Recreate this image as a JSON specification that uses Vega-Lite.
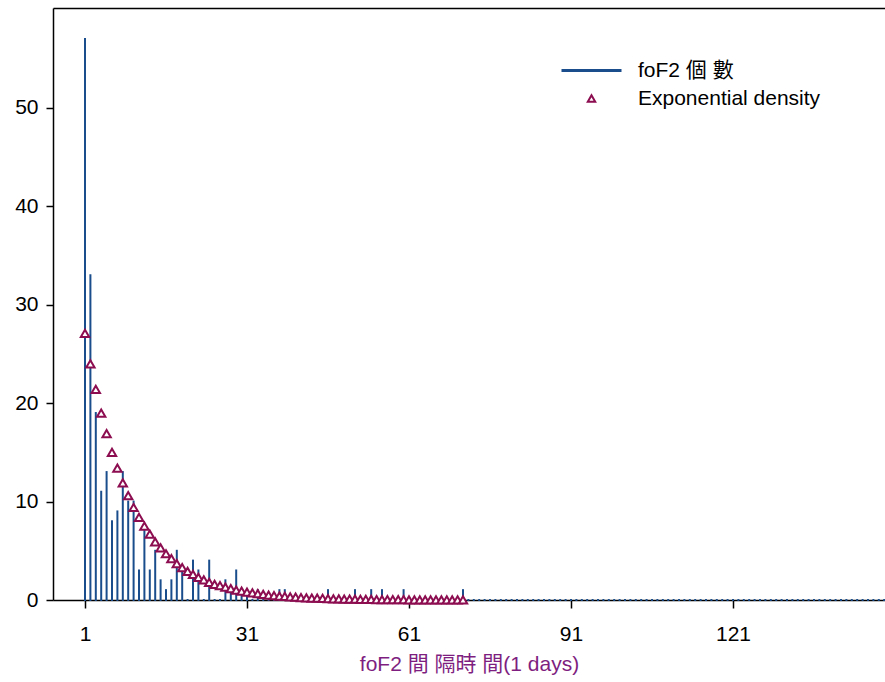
{
  "$schema": "https://vega.github.io/schema/vega-lite/v6.json",
  "width": 832,
  "height": 592,
  "autosize": {"type": "none"},
  "padding": {"left": 53, "top": 8, "right": 0, "bottom": 82},
  "background": "white",
  "config": {
    "view": {"stroke": null},
    "font": "Liberation Sans, Noto Sans CJK TC, sans-serif",
    "axis": {"grid": false, "labelFont": "Liberation Sans, Noto Sans CJK TC, sans-serif", "titleFont": "Liberation Sans, Noto Sans CJK TC, sans-serif"},
    "legend": {"labelFont": "Liberation Sans, Noto Sans CJK TC, sans-serif"}
  },
  "datasets": {
    "counts": [
      {"day":1,"count":57},{"day":2,"count":33},{"day":3,"count":19},{"day":4,"count":11},{"day":5,"count":13},
      {"day":6,"count":8},{"day":7,"count":9},{"day":8,"count":13},{"day":9,"count":10},{"day":10,"count":10},
      {"day":11,"count":3},{"day":12,"count":7},{"day":13,"count":3},{"day":14,"count":5},{"day":15,"count":2},
      {"day":16,"count":1},{"day":17,"count":2},{"day":18,"count":5},{"day":19,"count":3},{"day":20,"count":0},
      {"day":21,"count":4},{"day":22,"count":3},{"day":23,"count":0},{"day":24,"count":4},{"day":25,"count":0},
      {"day":26,"count":0},{"day":27,"count":2},{"day":28,"count":1},{"day":29,"count":3},{"day":30,"count":1},
      {"day":31,"count":1},{"day":32,"count":0},{"day":33,"count":1},{"day":34,"count":0},{"day":35,"count":0},
      {"day":36,"count":0},{"day":37,"count":1},{"day":38,"count":1},{"day":39,"count":0},{"day":40,"count":0},
      {"day":41,"count":0},{"day":42,"count":0},{"day":43,"count":0},{"day":44,"count":0},{"day":45,"count":0},
      {"day":46,"count":1},{"day":47,"count":0},{"day":48,"count":0},{"day":49,"count":0},{"day":50,"count":0},
      {"day":51,"count":1},{"day":52,"count":0},{"day":53,"count":0},{"day":54,"count":1},{"day":55,"count":0},
      {"day":56,"count":1},{"day":57,"count":0},{"day":58,"count":0},{"day":59,"count":0},{"day":60,"count":1},
      {"day":61,"count":0},{"day":62,"count":0},{"day":63,"count":0},{"day":64,"count":0},{"day":65,"count":0},
      {"day":66,"count":0},{"day":67,"count":0},{"day":68,"count":0},{"day":69,"count":0},{"day":70,"count":0},
      {"day":71,"count":1},{"day":72,"count":0},{"day":73,"count":0},{"day":74,"count":0},{"day":75,"count":0},
      {"day":76,"count":0},{"day":77,"count":0},{"day":78,"count":0},{"day":79,"count":0},{"day":80,"count":0},
      {"day":81,"count":0},{"day":82,"count":0},{"day":83,"count":0},{"day":84,"count":0},{"day":85,"count":0},
      {"day":86,"count":0},{"day":87,"count":0},{"day":88,"count":0},{"day":89,"count":0},{"day":90,"count":0},
      {"day":91,"count":0},{"day":92,"count":0},{"day":93,"count":0},{"day":94,"count":0},{"day":95,"count":0},
      {"day":96,"count":0},{"day":97,"count":0},{"day":98,"count":0},{"day":99,"count":0},{"day":100,"count":0},
      {"day":101,"count":0},{"day":102,"count":0},{"day":103,"count":0},{"day":104,"count":0},{"day":105,"count":0},
      {"day":106,"count":0},{"day":107,"count":0},{"day":108,"count":0},{"day":109,"count":0},{"day":110,"count":0},
      {"day":111,"count":0},{"day":112,"count":0},{"day":113,"count":0},{"day":114,"count":0},{"day":115,"count":0},
      {"day":116,"count":0},{"day":117,"count":0},{"day":118,"count":0},{"day":119,"count":0},{"day":120,"count":0},
      {"day":121,"count":0},{"day":122,"count":0},{"day":123,"count":0},{"day":124,"count":0},{"day":125,"count":0},
      {"day":126,"count":0},{"day":127,"count":0},{"day":128,"count":0},{"day":129,"count":0},{"day":130,"count":0},
      {"day":131,"count":0},{"day":132,"count":0},{"day":133,"count":0},{"day":134,"count":0},{"day":135,"count":0},
      {"day":136,"count":0},{"day":137,"count":0},{"day":138,"count":0},{"day":139,"count":0},{"day":140,"count":0},
      {"day":141,"count":0},{"day":142,"count":0},{"day":143,"count":0},{"day":144,"count":0},{"day":145,"count":0},
      {"day":146,"count":0},{"day":147,"count":0},{"day":148,"count":0},{"day":149,"count":0}
    ],
    "density": [
      {"day":1,"density":27.1},{"day":2,"density":24.0},{"day":3,"density":21.4},{"day":4,"density":19.0},{"day":5,"density":16.9},
      {"day":6,"density":15.0},{"day":7,"density":13.4},{"day":8,"density":11.9},{"day":9,"density":10.6},{"day":10,"density":9.4},
      {"day":11,"density":8.4},{"day":12,"density":7.5},{"day":13,"density":6.7},{"day":14,"density":5.9},{"day":15,"density":5.3},
      {"day":16,"density":4.7},{"day":17,"density":4.2},{"day":18,"density":3.7},{"day":19,"density":3.3},{"day":20,"density":2.9},
      {"day":21,"density":2.6},{"day":22,"density":2.3},{"day":23,"density":2.05},{"day":24,"density":1.8},{"day":25,"density":1.6},
      {"day":26,"density":1.45},{"day":27,"density":1.3},{"day":28,"density":1.15},{"day":29,"density":1.0},{"day":30,"density":0.9},
      {"day":31,"density":0.8},{"day":32,"density":0.72},{"day":33,"density":0.64},{"day":34,"density":0.57},{"day":35,"density":0.5},
      {"day":36,"density":0.45},{"day":37,"density":0.4},{"day":38,"density":0.36},{"day":39,"density":0.32},{"day":40,"density":0.28},
      {"day":41,"density":0.25},{"day":42,"density":0.22},{"day":43,"density":0.2},{"day":44,"density":0.18},{"day":45,"density":0.16},
      {"day":46,"density":0.14},{"day":47,"density":0.12},{"day":48,"density":0.11},{"day":49,"density":0.1},{"day":50,"density":0.09},
      {"day":51,"density":0.08},{"day":52,"density":0.07},{"day":53,"density":0.06},{"day":54,"density":0.055},{"day":55,"density":0.05},
      {"day":56,"density":0.045},{"day":57,"density":0.04},{"day":58,"density":0.035},{"day":59,"density":0.03},{"day":60,"density":0.028},
      {"day":61,"density":0.025},{"day":62,"density":0.022},{"day":63,"density":0.02},{"day":64,"density":0.018},{"day":65,"density":0.016},
      {"day":66,"density":0.014},{"day":67,"density":0.012},{"day":68,"density":0.011},{"day":69,"density":0.01},{"day":70,"density":0.009},
      {"day":71,"density":0.008}
    ]
  },
  "layer": [
    {
      "data": {"name": "counts"},
      "mark": {"type": "rule", "strokeWidth": 2, "strokeCap": "square"},
      "encoding": {
        "x": {
          "field": "day", "type": "quantitative",
          "scale": {"domain": [-4.926, 149.15], "nice": false, "zero": false},
          "axis": {
            "orient": "bottom", "values": [1, 31, 61, 91, 121],
            "title": "foF2 間 隔時 間(1 days)", "titleColor": "#7e1e80", "titleFontSize": 21, "titleFontWeight": "normal",
            "titlePadding": 9,
            "labelFontSize": 21, "labelColor": "black", "labelPadding": 15, "labelFlush": false,
            "tickColor": "black", "tickSize": 8, "tickWidth": 1.5,
            "domainColor": "black", "domainWidth": 1.5
          }
        },
        "y": {
          "field": "count", "type": "quantitative",
          "scale": {"domain": [0, 60.16], "nice": false, "zero": true},
          "axis": {
            "values": [0, 10, 20, 30, 40, 50], "title": null,
            "labelFontSize": 21, "labelColor": "black", "labelPadding": 8,
            "tickColor": "black", "tickSize": 7, "tickWidth": 1.5,
            "domainColor": "black", "domainWidth": 1.5
          }
        },
        "y2": {"datum": 0},
        "color": {
          "datum": "foF2 個 數", "type": "nominal",
          "scale": {"domain": ["foF2 個 數", "Exponential density"], "range": ["#1a4d8c", "#8c0d50"]},
          "legend": {
            "orient": "none", "legendX": 528, "legendY": 52, "title": null,
            "labelFontSize": 21, "labelColor": "black", "labelOffset": 36, "labelLimit": 0,
            "symbolSize": 100, "rowPadding": 6, "padding": 0,
            "encode": {
              "symbols": {
                "update": {
                  "shape": {"signal": "datum.value === 'foF2 個 數' ? 'M-6,0H6' : 'triangle-up'"},
                  "size": {"signal": "datum.value === 'foF2 個 數' ? 100 : 55"},
                  "strokeWidth": {"signal": "datum.value === 'foF2 個 數' ? 3 : 2"},
                  "stroke": {"scale": "color", "field": "value"},
                  "fill": {"value": "white"},
                  "opacity": {"value": 1},
                  "fillOpacity": {"value": 1},
                  "strokeOpacity": {"value": 1}
                }
              }
            }
          }
        }
      }
    },
    {
      "data": {"name": "density"},
      "mark": {"type": "point", "shape": "triangle-up", "size": 70, "strokeWidth": 2, "filled": false, "fill": "white", "fillOpacity": 1, "opacity": 1},
      "encoding": {
        "x": {
          "field": "day", "type": "quantitative",
          "axis": {"orient": "top", "labels": false, "ticks": false, "title": null, "domainColor": "black", "domainWidth": 1.5}
        },
        "y": {"field": "density", "type": "quantitative"},
        "color": {"datum": "Exponential density", "type": "nominal"}
      }
    }
  ],
  "resolve": {"axis": {"x": "independent"}}
}
